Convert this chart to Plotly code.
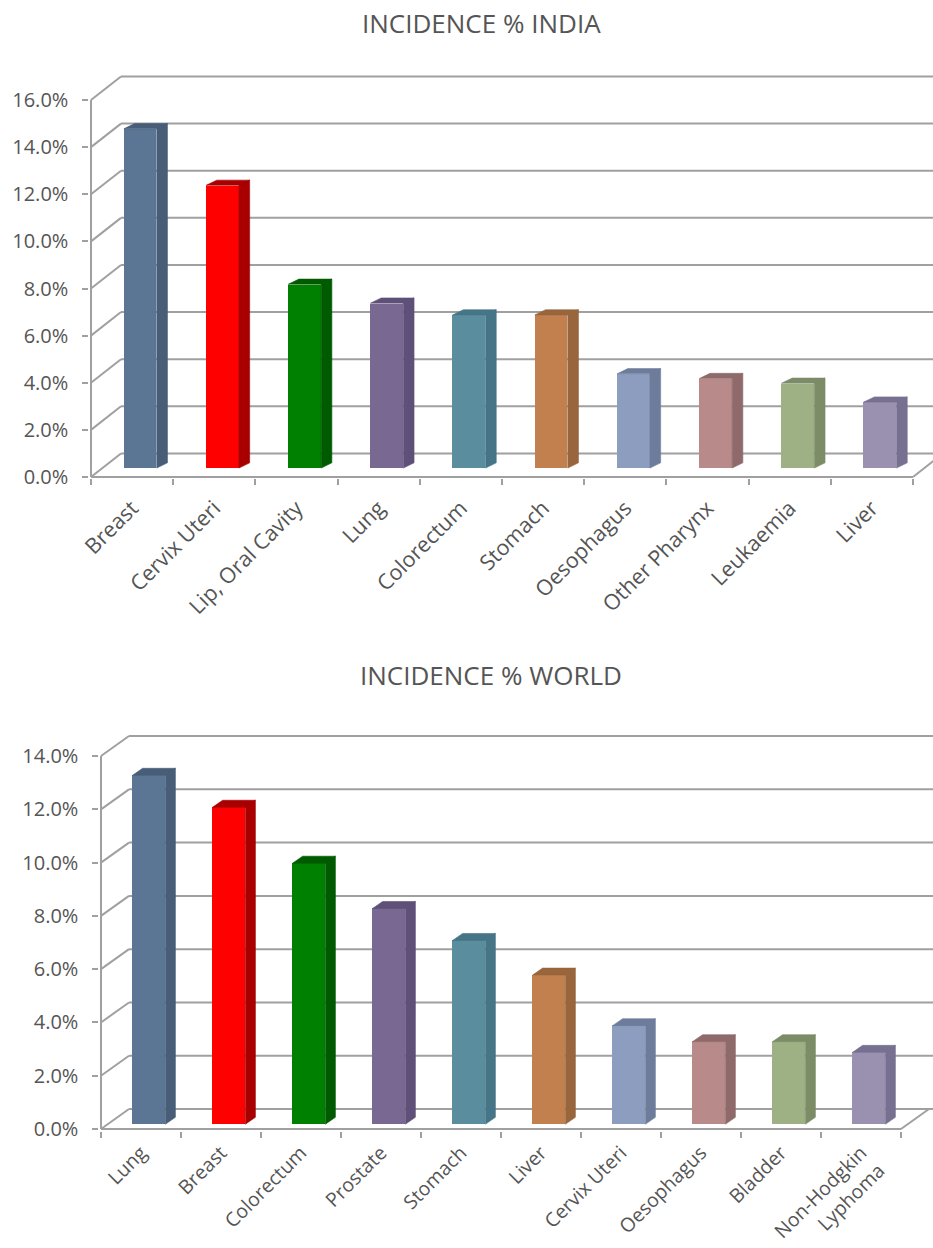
import plotly.graph_objects as go

# ---------------- data ----------------
india_categories = ["Breast", "Cervix Uteri", "Lip, Oral Cavity", "Lung", "Colorectum",
                    "Stomach", "Oesophagus", "Other Pharynx", "Leukaemia", "Liver"]
india_values = [14.4, 12.0, 7.8, 7.0, 6.5, 6.5, 4.0, 3.8, 3.6, 2.8]
india_ticks = [0, 2, 4, 6, 8, 10, 12, 14, 16]
india_ticktext = ["0.0%", "2.0%", "4.0%", "6.0%", "8.0%", "10.0%", "12.0%", "14.0%", "16.0%"]

world_categories = ["Lung", "Breast", "Colorectum", "Prostate", "Stomach", "Liver",
                    "Cervix Uteri", "Oesophagus", "Bladder", "Non-Hodgkin<br>Lyphoma"]
world_values = [13.1, 11.9, 9.8, 8.1, 6.9, 5.6, 3.7, 3.1, 3.1, 2.7]
world_ticks = [0, 2, 4, 6, 8, 10, 12, 14]
world_ticktext = ["0.0%", "2.0%", "4.0%", "6.0%", "8.0%", "10.0%", "12.0%", "14.0%"]

front_colors = ["#5b7594", "#ff0000", "#008000", "#796892", "#5a8e9e",
                "#c2804f", "#8c9dbf", "#b98a8a", "#9db184", "#9a90b0"]
side_colors = ["#475d78", "#a80000", "#005a00", "#5e5078", "#457586",
               "#98653c", "#6e7c9c", "#8f6a6a", "#7b8c66", "#777090"]

W, H = 933, 1248
GRID = "#a0a0a0"
TXT = "#555555"
FONT = "Open Sans"

fig = go.Figure()
shapes = []


def add_chart(xa, ya, cats, vals, ticks, ticktext, px_x0, px_per_x, px_y0, px_per_y,
              wall_dx, wall_dy, bar_w, bar_shift, floor_dy, bdx, bdy,
              xfont, xstandoff):
    n = len(cats)
    xr = "x" if xa == "xaxis" else "x" + xa[5:]
    yr = "y" if ya == "yaxis" else "y" + ya[5:]
    x_lo, x_hi = -0.02, (W - px_x0) / px_per_x
    y_lo = -0.06
    y_hi = ticks[-1] + wall_dy + 0.25
    dom_x = [(px_x0 + x_lo * px_per_x) / W, 1.0]
    dom_y = [(H - (px_y0 - y_lo * px_per_y)) / H, (H - (px_y0 - y_hi * px_per_y)) / H]

    # walls / grid (below traces)
    for v in ticks:
        shapes.append(dict(type="line", xref=xr, yref=yr, layer="below",
                           x0=wall_dx, y0=v + wall_dy, x1=x_hi + 1, y1=v + wall_dy,
                           line=dict(color=GRID, width=2)))
        shapes.append(dict(type="line", xref=xr, yref=yr, layer="below",
                           x0=0, y0=v, x1=wall_dx, y1=v + wall_dy,
                           line=dict(color=GRID, width=2)))
    shapes.append(dict(type="line", xref=xr, yref=yr, layer="below",
                       x0=0, y0=0, x1=0, y1=ticks[-1], line=dict(color=GRID, width=2)))
    shapes.append(dict(type="line", xref=xr, yref=yr, layer="below",
                       x0=0, y0=0, x1=n, y1=0, line=dict(color=GRID, width=2)))
    shapes.append(dict(type="line", xref=xr, yref=yr, layer="below",
                       x0=n, y0=0, x1=n + wall_dx, y1=wall_dy, line=dict(color=GRID, width=2)))

    centers = [i + 0.5 + bar_shift for i in range(n)]
    fig.add_trace(go.Bar(x=centers, y=vals, base=[floor_dy] * n, width=bar_w,
                         marker=dict(color=front_colors[:n], line=dict(width=0)),
                         xaxis=xr, yaxis=yr, showlegend=False, hoverinfo="skip"))
    for i, v in enumerate(vals):
        xl = centers[i] - bar_w / 2
        xrt = centers[i] + bar_w / 2
        b = floor_dy
        t = floor_dy + v
        # side face + top face
        xs = [xrt, xrt + bdx, xrt + bdx, xrt, xrt, None,
              xl, xl + bdx, xrt + bdx, xrt, xl]
        ys = [b, b + bdy, t + bdy, t, b, None,
              t, t + bdy, t + bdy, t, t]
        fig.add_trace(go.Scatter(x=xs, y=ys, mode="lines", fill="toself",
                                 fillcolor=side_colors[i],
                                 line=dict(color=side_colors[i], width=0.6),
                                 xaxis=xr, yaxis=yr, showlegend=False, hoverinfo="skip"))

    fig.update_layout(**{
        xa: dict(domain=dom_x, range=[x_lo, x_hi], anchor=yr,
                 tickmode="array", tickvals=[i + 0.5 for i in range(n)], ticktext=cats,
                 tickangle=-45, ticks="", showgrid=False, zeroline=False, showline=False,
                 ticklabelstandoff=xstandoff,
                 tickfont=dict(family=FONT, size=xfont, color=TXT),
                 minor=dict(tickmode="array", tickvals=list(range(n + 1)), ticks="outside",
                            ticklen=6, tickwidth=1.5, tickcolor=GRID, showgrid=False),
                 fixedrange=True),
        ya: dict(domain=dom_y, range=[y_lo, y_hi], anchor=xr,
                 tickmode="array", tickvals=ticks, ticktext=ticktext,
                 ticks="outside", ticklen=6, tickwidth=1.5, tickcolor=GRID,
                 ticklabelstandoff=10,
                 showgrid=False, zeroline=False, showline=False,
                 tickfont=dict(family=FONT, size=20, color=TXT), fixedrange=True),
    })


add_chart("xaxis", "yaxis", india_categories, india_values, india_ticks, india_ticktext,
          px_x0=91, px_per_x=82.2, px_y0=477, px_per_y=23.56,
          wall_dx=0.365, wall_dy=1.0, bar_w=0.40, bar_shift=0.10, floor_dy=0.38,
          bdx=0.13, bdy=0.22, xfont=21.5, xstandoff=12)
add_chart("xaxis2", "yaxis2", world_categories, world_values, world_ticks, world_ticktext,
          px_x0=101, px_per_x=80.0, px_y0=1129, px_per_y=26.64,
          wall_dx=0.35, wall_dy=0.75, bar_w=0.41, bar_shift=0.10, floor_dy=0.18,
          bdx=0.125, bdy=0.26, xfont=19.5, xstandoff=6)

annotations = [
    dict(text="INCIDENCE % INDIA", x=481 / W, y=1 - 23 / H, xref="paper", yref="paper",
         xanchor="center", yanchor="middle", showarrow=False,
         font=dict(family=FONT, size=26, color="#555555")),
    dict(text="INCIDENCE % WORLD", x=491 / W, y=1 - 675 / H, xref="paper", yref="paper",
         xanchor="center", yanchor="middle", showarrow=False,
         font=dict(family=FONT, size=26, color="#555555")),
]

fig.update_layout(width=W, height=H, autosize=False,
                  margin=dict(l=0, r=0, t=0, b=0),
                  paper_bgcolor="white", plot_bgcolor="white",
                  template="none", bargap=0, showlegend=False,
                  shapes=shapes, annotations=annotations)

fig.write_html("out.html")
